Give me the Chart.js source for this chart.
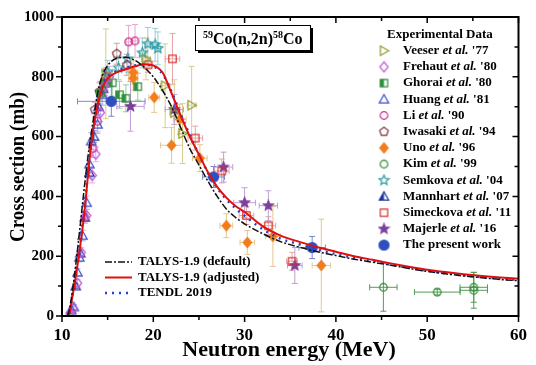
<!DOCTYPE html>
<html>
<head>
<meta charset="utf-8">
<script src="https://cdn.jsdelivr.net/npm/chart.js@4.4.1/dist/chart.umd.min.js"></script>
<style>
  html, body { margin: 0; padding: 0; background: #fff; }
  canvas { display: block; }
</style>
</head>
<body>
<canvas id="chart" width="536" height="365"></canvas>
<script>
// --- evaluated curves (energy in MeV, cross section in mb)
const curveE = [10.6, 10.8, 11, 11.5, 12, 12.5, 13, 13.5, 14, 14.5, 15, 16, 17, 18, 19, 20, 21, 22, 23, 24, 25, 26, 27, 28, 29, 30, 32, 34, 36, 38, 40, 42, 44, 46, 48, 50, 52, 54, 56, 58, 60];
const talysDefault = [0, 20, 55, 170, 305, 445, 570, 670, 760, 810, 838, 862, 865, 855, 832, 800, 755, 700, 630, 560, 505, 450, 400, 358, 330, 308, 275, 248, 230, 215, 202, 190, 180, 170, 159, 149, 141, 134, 128, 122, 118];
const talysAdjusted = [0, 8, 40, 130, 235, 360, 520, 640, 720, 770, 795, 815, 825, 835, 842, 838, 815, 745, 670, 600, 540, 480, 432, 396, 368, 348, 300, 268, 248, 230, 215, 200, 188, 176, 165, 155, 147, 140, 134, 129, 125];
const tendl2019 = [0, 10, 45, 140, 255, 380, 520, 640, 720, 775, 800, 820, 830, 838, 840, 835, 810, 750, 675, 605, 540, 478, 428, 390, 360, 335, 290, 258, 240, 222, 207, 195, 184, 172, 161, 151, 143, 136, 130, 125, 121];

// --- experimental data
const veeserE = [14.8, 19.2, 21.3, 22.3, 23.2, 24.2];
const veeserXS = [810, 860, 770, 680, 610, 705];
const veeserdXS = [150, 70, 140, 110, 100, 130];
const veeserdE = [0.3, 0.5, 0.5, 0.5, 0.5, 0.5];

const frehautE = [10.9, 11.2, 11.7, 12.1, 12.7, 13.3, 13.7, 14.2, 14.7, 15.2];
const frehautXS = [10, 25, 110, 213, 336, 470, 541, 680, 770, 800];
const frehautdXS = [5, 8, 12, 15, 20, 25, 25, 30, 35, 35];
const frehautdE = [0.1, 0.1, 0.1, 0.1, 0.1, 0.1, 0.1, 0.1, 0.1, 0.1];

const ghoraiE = [14.2, 14.7, 15.5, 16.3, 17.0, 18.3];
const ghoraiXS = [745, 778, 780, 740, 728, 767];
const ghoraidXS = [40, 40, 45, 45, 45, 45];
const ghoraidE = [0.2, 0.2, 0.2, 0.2, 0.2, 0.2];

const huangE = [11.3, 11.7, 11.9, 12.25, 12.7, 13.0, 13.2, 13.9, 14.4, 14.8];
const huangXS = [30, 146, 196, 269, 379, 508, 585, 641, 740, 790];
const huangdXS = [8, 12, 15, 18, 22, 25, 28, 30, 35, 35];
const huangdE = [0.1, 0.1, 0.1, 0.1, 0.1, 0.1, 0.1, 0.1, 0.1, 0.1];

const liE = [12.5, 13.4, 13.9, 14.6, 17.3, 18.0];
const liXS = [330, 560, 651, 780, 917, 920];
const lidXS = [20, 30, 35, 40, 55, 55];
const lidE = [0.1, 0.1, 0.1, 0.2, 0.3, 0.3];

const iwasakiE = [13.6, 14.1, 14.8, 16.0, 17.1];
const iwasakiXS = [690, 750, 800, 877, 840];
const iwasakidXS = [25, 30, 30, 35, 35];
const iwasakidE = [0.2, 0.2, 0.2, 0.2, 0.2];

const unoE = [17.8, 17.8, 20.1, 22.0, 22.9, 25.1, 28.0, 30.3, 33.1, 38.4];
const unoXS = [815, 795, 731, 571, 658, 528, 302, 246, 266, 169];
const unodXS = [40, 40, 50, 60, 50, 45, 40, 40, 100, 155];
const unodE = [0.5, 0.5, 0.6, 1.2, 0.7, 0.8, 0.7, 0.8, 0.8, 1.0];

const kimE = [45.2, 51.1, 55.1, 55.1];
const kimXS = [96, 80, 86, 96];
const kimdXS = [80, 10, 60, 50];
const kimdE = [1.5, 2.5, 1.5, 1.5];

const semkovaE = [15.0, 16.2, 17.2, 18.8, 19.4, 20.2, 20.5];
const semkovaXS = [815, 830, 860, 880, 910, 907, 895];
const semkovadXS = [40, 40, 45, 50, 55, 55, 55];
const semkovadE = [0.2, 0.2, 0.2, 0.3, 0.3, 0.3, 0.3];

const mannhartE = [11.0, 11.5, 12.0, 12.5, 13.0, 13.5, 14.0, 14.5];
const mannhartXS = [20, 100, 210, 330, 480, 600, 700, 760];
const mannhartdXS = [5, 8, 10, 15, 18, 20, 25, 25];
const mannhartdE = [0.1, 0.1, 0.1, 0.1, 0.1, 0.1, 0.1, 0.1];

const simeckovaE = [19.4, 22.1, 24.6, 27.5, 30.2, 32.6, 35.2];
const simeckovaXS = [840, 860, 595, 485, 336, 302, 183];
const simeckovadXS = [25, 85, 40, 40, 30, 30, 30];
const simeckovadE = [0.5, 0.8, 0.8, 0.8, 0.8, 0.8, 0.6];

const majerleE = [17.5, 22.3, 27.7, 30.0, 32.6, 35.5];
const majerleXS = [701, 691, 498, 379, 369, 169];
const majerledXS = [83, 50, 50, 50, 50, 60];
const majerledE = [1.5, 1.0, 1.0, 1.2, 1.0, 0.8];

const presentE = [15.4, 26.6, 37.4];
const presentXS = [718, 465, 229];
const presentdXS = [50, 35, 37];
const presentdE = [3.7, 1.2, 1.45];

const expNames = ['Veeser', 'Frehaut', 'Ghorai', 'Huang', 'Li', 'Iwasaki', 'Uno', 'Kim', 'Semkova', 'Mannhart', 'Simeckova', 'Majerle', 'The present work'];
const expYears = ["'77", "'80", "'80", "'81", "'90", "'94", "'96", "'99", "'04", "'07", "'11", "'16", ''];
const curveLabels = ['TALYS-1.9 (default)', 'TALYS-1.9 (adjusted)', 'TENDL 2019'];
const xTicks = [10, 20, 30, 40, 50, 60];
const yTicks = [0, 200, 400, 600, 800, 1000];

const FONT = "'Liberation Serif', 'DejaVu Serif', serif";

function zip(xs, ys) {
  return xs.map((x, i) => ({ x, y: ys[i] }));
}

// marker shapes drawn into small canvases
function shapePath(g, shape) {
  g.beginPath();
  if (shape === 'circle') g.arc(0, 0, 3.8, 0, Math.PI * 2);
  else if (shape === 'bigcircle') g.arc(0, 0, 5, 0, Math.PI * 2);
  else if (shape === 'square') g.rect(-3.7, -3.7, 7.4, 7.4);
  else if (shape === 'diamond') {
    g.moveTo(0, -5); g.lineTo(4.2, 0); g.lineTo(0, 5); g.lineTo(-4.2, 0); g.closePath();
  } else if (shape === 'triUp') {
    g.moveTo(0, -4.7); g.lineTo(4.7, 3.6); g.lineTo(-4.7, 3.6); g.closePath();
  } else if (shape === 'triRight') {
    g.moveTo(4.7, 0); g.lineTo(-3.6, -4.7); g.lineTo(-3.6, 4.7); g.closePath();
  } else if (shape === 'pentagon') {
    for (let i = 0; i < 5; i++) {
      const a = -Math.PI / 2 + i * 2 * Math.PI / 5;
      g.lineTo(Math.cos(a) * 4.5, Math.sin(a) * 4.5);
    }
    g.closePath();
  } else if (shape === 'star') {
    for (let i = 0; i < 10; i++) {
      const a = -Math.PI / 2 + i * Math.PI / 5;
      const r = i % 2 ? 2.3 : 5.2;
      g.lineTo(Math.cos(a) * r, Math.sin(a) * r);
    }
    g.closePath();
  }
}

function makeMarker(color, shape, fill) {
  const s = 13;
  const c = document.createElement('canvas');
  c.width = s; c.height = s;
  const g = c.getContext('2d');
  g.translate(s / 2, s / 2);
  g.strokeStyle = color;
  g.fillStyle = color;
  g.lineWidth = 1.2;
  shapePath(g, shape);
  if (fill === 'full') g.fill();
  if (fill === 'half') {
    g.save();
    g.clip();
    g.fillRect(-7, -7, 7, 14);
    g.restore();
    shapePath(g, shape);
  }
  g.stroke();
  return c;
}

const expSets = [
  { e: veeserE, xs: veeserXS, dxs: veeserdXS, de: veeserdE, color: '#8e9a22', err: '#d8cd8e', shape: 'triRight', fill: 'none' },
  { e: frehautE, xs: frehautXS, dxs: frehautdXS, de: frehautdE, color: '#c05ad8', err: '#dcb0ea', shape: 'diamond', fill: 'none' },
  { e: ghoraiE, xs: ghoraiXS, dxs: ghoraidXS, de: ghoraidE, color: '#2f8f3a', err: '#9acb98', shape: 'square', fill: 'half' },
  { e: huangE, xs: huangXS, dxs: huangdXS, de: huangdE, color: '#3c4ec8', err: '#a9b2e6', shape: 'triUp', fill: 'none' },
  { e: liE, xs: liXS, dxs: lidXS, de: lidE, color: '#d42a8c', err: '#e8a6cc', shape: 'circle', fill: 'none' },
  { e: iwasakiE, xs: iwasakiXS, dxs: iwasakidXS, de: iwasakidE, color: '#7a2a36', err: '#c9a4aa', shape: 'pentagon', fill: 'none' },
  { e: unoE, xs: unoXS, dxs: unodXS, de: unodE, color: '#f27d1c', err: '#e6c690', shape: 'diamond', fill: 'full' },
  { e: kimE, xs: kimXS, dxs: kimdXS, de: kimdE, color: '#2f8a35', err: '#4e9e54', shape: 'circle', fill: 'none' },
  { e: semkovaE, xs: semkovaXS, dxs: semkovadXS, de: semkovadE, color: '#2c9aa6', err: '#99cfd6', shape: 'star', fill: 'none' },
  { e: mannhartE, xs: mannhartXS, dxs: mannhartdXS, de: mannhartdE, color: '#233399', err: '#8b96d4', shape: 'triUp', fill: 'half' },
  { e: simeckovaE, xs: simeckovaXS, dxs: simeckovadXS, de: simeckovadE, color: '#d9302e', err: '#e9a4a4', shape: 'square', fill: 'none' },
  { e: majerleE, xs: majerleXS, dxs: majerledXS, de: majerledE, color: '#7b3f9c', err: '#c19ed4', shape: 'star', fill: 'full' },
  { e: presentE, xs: presentXS, dxs: presentdXS, de: presentdE, color: '#2f4fbf', err: '#7a88cc', shape: 'bigcircle', fill: 'full' }
];
expSets.forEach(s => { s.marker = makeMarker(s.color, s.shape, s.fill); });

const curveSets = [
  { data: talysDefault, color: '#111', width: 1.5, dash: [7, 2, 2, 2] },
  { data: talysAdjusted, color: '#e01010', width: 2, dash: [] },
  { data: tendl2019, color: '#2a3fc8', width: 2.5, dash: [2, 5] }
];

const datasets = [];
curveSets.forEach((c, i) => {
  datasets.push({
    label: curveLabels[i],
    data: zip(curveE, c.data),
    showLine: true,
    borderColor: c.color,
    borderWidth: c.width,
    borderDash: c.dash,
    pointRadius: 0,
    cubicInterpolationMode: 'monotone',
    order: 0
  });
});
expSets.forEach((s, i) => {
  datasets.push({
    label: expNames[i] + (expYears[i] ? ' et al. ' + expYears[i] : ''),
    data: zip(s.e, s.xs),
    errY: s.dxs,
    errX: s.de,
    errColor: s.err,
    pointStyle: s.marker,
    pointRadius: 4,
    showLine: false,
    order: 1
  });
});

// error bars under the markers
const errorBars = {
  id: 'errorBars',
  beforeDatasetsDraw(chart) {
    const { ctx, scales: { x, y } } = chart;
    ctx.save();
    ctx.lineWidth = 1;
    chart.data.datasets.forEach(ds => {
      if (!ds.errY) return;
      ctx.strokeStyle = ds.errColor;
      ds.data.forEach((p, j) => {
        const px = x.getPixelForValue(p.x), py = y.getPixelForValue(p.y);
        const y1 = y.getPixelForValue(p.y + ds.errY[j]), y2 = y.getPixelForValue(p.y - ds.errY[j]);
        const x1 = x.getPixelForValue(p.x - ds.errX[j]), x2 = x.getPixelForValue(p.x + ds.errX[j]);
        ctx.beginPath();
        if (y2 - y1 > 4) {
          ctx.moveTo(px, y1); ctx.lineTo(px, y2);
          ctx.moveTo(px - 3, y1); ctx.lineTo(px + 3, y1);
          ctx.moveTo(px - 3, y2); ctx.lineTo(px + 3, y2);
        }
        if (x2 - x1 > 4) {
          ctx.moveTo(x1, py); ctx.lineTo(x2, py);
          ctx.moveTo(x1, py - 3); ctx.lineTo(x1, py + 3);
          ctx.moveTo(x2, py - 3); ctx.lineTo(x2, py + 3);
        }
        ctx.stroke();
      });
    });
    ctx.restore();
  }
};

// frame, minor ticks, title box, legends, axis titles
const decorations = {
  id: 'decorations',
  afterDraw(chart) {
    const { ctx, chartArea: a, scales: { x, y } } = chart;
    ctx.save();
    ctx.strokeStyle = '#000';
    ctx.lineWidth = 2;
    ctx.strokeRect(a.left, a.top, a.right - a.left, a.bottom - a.top);

    ctx.lineWidth = 1.5;
    ctx.beginPath();
    for (let v = 0; v <= 1000; v += 100) {
      const py = y.getPixelForValue(v);
      const len = v % 200 === 0 ? 6 : 4;
      ctx.moveTo(a.left - len, py); ctx.lineTo(a.left, py);
      ctx.moveTo(a.right, py); ctx.lineTo(a.right - len, py);
    }
    for (let v = 10; v <= 60; v += 5) {
      const px = x.getPixelForValue(v);
      const len = v % 10 === 0 ? 6 : 4;
      ctx.moveTo(px, a.bottom); ctx.lineTo(px, a.bottom + len);
      ctx.moveTo(px, a.top); ctx.lineTo(px, a.top + len);
    }
    ctx.stroke();

    // axis titles
    ctx.fillStyle = '#000';
    ctx.textAlign = 'center';
    ctx.textBaseline = 'middle';
    ctx.font = 'bold 22px ' + FONT;
    ctx.fillText('Neutron energy (MeV)', 289, 350);
    ctx.save();
    ctx.font = 'bold 21px ' + FONT;
    const yTitle = 'Cross section (mb)';
    const squeeze = Math.min(1, 150 / ctx.measureText(yTitle).width);
    ctx.translate(19, 167);
    ctx.rotate(-Math.PI / 2);
    ctx.scale(squeeze, 1);
    ctx.fillText(yTitle, 0, 0);
    ctx.restore();

    // reaction box
    ctx.fillStyle = '#000';
    ctx.fillRect(198, 28, 115, 25);
    ctx.fillStyle = '#fff';
    ctx.fillRect(195, 25, 115, 25);
    ctx.lineWidth = 1;
    ctx.strokeRect(195.5, 25.5, 115, 25);
    ctx.fillStyle = '#000';
    ctx.textAlign = 'left';
    ctx.textBaseline = 'alphabetic';
    let tx = 203;
    const parts = [['59', true], ['Co(n,2n)', false], ['58', true], ['Co', false]];
    parts.forEach(([t, sup]) => {
      ctx.font = sup ? 'bold 10px ' + FONT : 'bold 16px ' + FONT;
      ctx.fillText(t, tx, sup ? 38 : 44);
      tx += ctx.measureText(t).width;
    });

    // experimental legend
    ctx.font = 'bold 13px ' + FONT;
    ctx.textBaseline = 'middle';
    ctx.fillText('Experimental Data', 387, 35);
    expSets.forEach((s, i) => {
      const ly = 50.7 + i * 16.2;
      ctx.drawImage(s.marker, 384 - s.marker.width / 2, ly - s.marker.height / 2);
      let lx = 403;
      const pieces = expYears[i]
        ? [[expNames[i] + ' ', 'bold'], ['et al.', 'italic bold'], [' ' + expYears[i], 'bold']]
        : [[expNames[i], 'bold']];
      pieces.forEach(([t, w]) => {
        ctx.font = w + ' 13px ' + FONT;
        ctx.fillText(t, lx, ly);
        lx += ctx.measureText(t).width;
      });
    });

    // model legend
    curveSets.forEach((c, i) => {
      const ly = 262 + i * 15.5;
      ctx.strokeStyle = c.color;
      ctx.lineWidth = c.width;
      ctx.setLineDash(c.dash);
      ctx.beginPath();
      ctx.moveTo(105, ly); ctx.lineTo(132, ly);
      ctx.stroke();
      ctx.setLineDash([]);
      ctx.font = 'bold 13px ' + FONT;
      ctx.fillText(curveLabels[i], 138, ly);
    });
    ctx.restore();
  }
};

new Chart(document.getElementById('chart'), {
  type: 'scatter',
  data: { datasets },
  plugins: [errorBars, decorations],
  options: {
    responsive: false,
    animation: false,
    layout: { padding: { top: 15, right: 8, left: 0, bottom: 0 } },
    plugins: { legend: { display: false }, tooltip: { enabled: false } },
    scales: {
      x: {
        type: 'linear', min: 10, max: 60,
        afterFit(s) { s.height = 49; },
        afterBuildTicks(s) { s.ticks = xTicks.map(v => ({ value: v })); },
        ticks: { color: '#000', font: { family: FONT, size: 17, weight: 'bold' }, padding: 9, maxRotation: 0, callback: v => String(v) },
        grid: { display: false, drawTicks: false },
        border: { display: true, color: '#000', width: 2 }
      },
      y: {
        type: 'linear', min: 0, max: 1000,
        afterFit(s) { s.width = 62; },
        afterBuildTicks(s) { s.ticks = yTicks.map(v => ({ value: v })); },
        ticks: { color: '#000', font: { family: FONT, size: 15, weight: 'bold' }, padding: 8, callback: v => String(v) },
        grid: { display: false, drawTicks: false },
        border: { display: true, color: '#000', width: 2 }
      }
    }
  }
});
</script>
</body>
</html>
